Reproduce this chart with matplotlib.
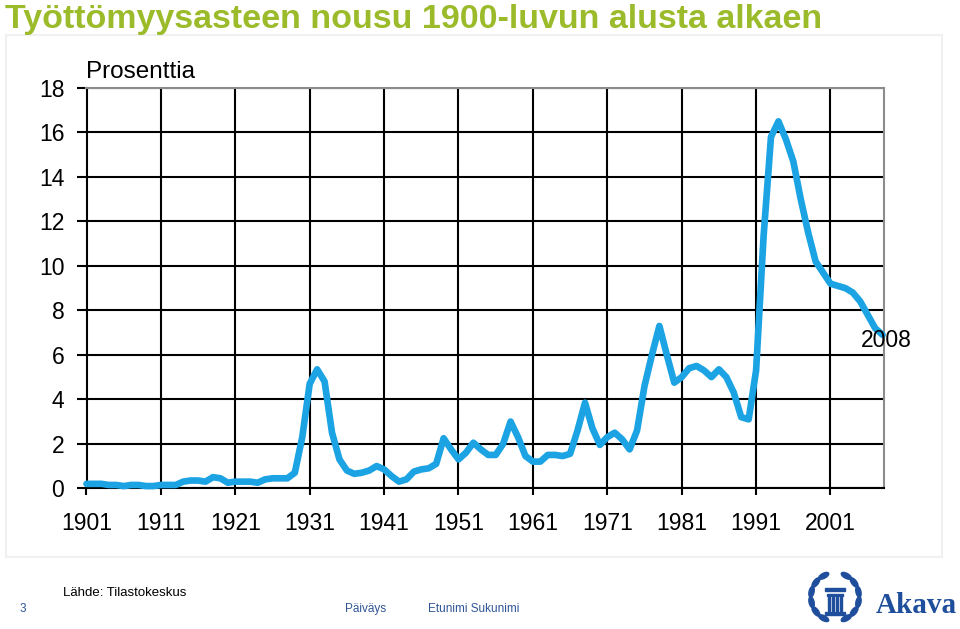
import numpy as np
import matplotlib
matplotlib.use("Agg")
import matplotlib.pyplot as plt
from matplotlib.patches import Ellipse, Rectangle

# ---- data ----
years = list(range(1901, 2009))
unemployment = [
    0.20, 0.20, 0.20, 0.15, 0.15, 0.10, 0.15, 0.15, 0.10, 0.10,   # 1901-1910
    0.15, 0.15, 0.15, 0.30, 0.35, 0.35, 0.30, 0.50, 0.45, 0.25,   # 1911-1920
    0.30, 0.30, 0.30, 0.25, 0.40, 0.45, 0.45, 0.45, 0.70, 2.30,   # 1921-1930
    4.70, 5.35, 4.80, 2.50, 1.30, 0.80, 0.65, 0.70, 0.80, 1.00,   # 1931-1940
    0.85, 0.55, 0.30, 0.40, 0.75, 0.85, 0.90, 1.10, 2.25, 1.75,   # 1941-1950
    1.30, 1.60, 2.05, 1.75, 1.50, 1.50, 2.00, 3.00, 2.30, 1.45,   # 1951-1960
    1.20, 1.20, 1.50, 1.50, 1.45, 1.55, 2.60, 3.85, 2.70, 1.95,   # 1961-1970
    2.30, 2.50, 2.20, 1.75, 2.60, 4.60, 6.00, 7.30, 6.00, 4.75,   # 1971-1980
    5.00, 5.40, 5.50, 5.30, 5.00, 5.35, 5.00, 4.30, 3.20, 3.10,   # 1981-1990
    5.30, 11.3, 15.8, 16.5, 15.7, 14.7, 13.0, 11.5, 10.2, 9.70,   # 1991-2000
    9.20, 9.10, 9.00, 8.80, 8.40, 7.80, 7.20, 6.90,               # 2001-2008
]
x_ticks = list(range(1901, 2002, 10))
y_ticks = list(range(0, 19, 2))

title = "Työttömyysasteen nousu 1900-luvun alusta alkaen"
ylabel_text = "Prosenttia"
end_label = "2008"
source = "Lähde: Tilastokeskus"

W, H = 960, 629
fig = plt.figure(figsize=(W / 100, H / 100), dpi=100)
fig.patch.set_facecolor("white")

def fx(px):
    return px / W

def fy(py):
    return 1 - py / H

# faint frame of the embedded picture
frame = Rectangle((fx(6), fy(557)), fx(942) - fx(6), fy(35) - fy(557),
                  transform=fig.transFigure, facecolor="white",
                  edgecolor="#f0f0f0", linewidth=1.5, zorder=-10)
fig.patches.append(frame)

# title
fig.text(fx(5), fy(28), title, family="Liberation Sans",
         fontweight="bold", fontsize=24.5, color="#9bbb2a", ha="left", va="baseline")

# main axes
left, right, top, bottom = 86.5, 884, 88, 488.3
ax = fig.add_axes([fx(left), fy(bottom), fx(right) - fx(left), fy(top) - fy(bottom)])
ax.set_zorder(5)
ax.set_xlim(1901, 1901 + (right - left) / 7.44)
ax.set_ylim(0, 18)

ax.plot(years, unemployment, color="#1ca3e3", linewidth=4.8,
        solid_joinstyle="round", solid_capstyle="round", clip_on=False, zorder=3)

ax.set_xticks(x_ticks)
ax.set_yticks(y_ticks)
tick_font = dict(family="Liberation Sans", size=16.5)
ax.set_xticklabels([str(t) for t in x_ticks], **tick_font)
ax.set_yticklabels([str(t) for t in y_ticks], **tick_font)
ax.tick_params(axis="x", direction="out", length=5, width=1.5, pad=12, colors="black")
ax.tick_params(axis="y", direction="out", length=7, width=1.5, pad=9, colors="black")
ax.grid(True, color="black", linewidth=1.5)
ax.set_axisbelow(True)
for s in ("left", "bottom"):
    ax.spines[s].set_color("black")
    ax.spines[s].set_linewidth(1.5)
for s in ("top", "right"):
    ax.spines[s].set_color("#8c8c8c")
    ax.spines[s].set_linewidth(1.5)

ax.text(2008.5, 6.65, end_label, ha="center", va="center", clip_on=False,
        family="Liberation Sans", fontsize=16.5, color="black", zorder=4)

fig.text(fx(86), fy(78), ylabel_text, family="Liberation Sans", fontsize=17.5,
         ha="left", va="baseline", color="black")

# footer
foot_blue = "#2f5597"
fig.text(fx(63), fy(596), source, family="Liberation Sans", fontsize=9.5,
         ha="left", va="baseline", color="black")
fig.text(fx(20), fy(612), "3", family="Liberation Sans", fontsize=8.5,
         ha="left", va="baseline", color=foot_blue)
fig.text(fx(345), fy(612), "Päiväys", family="Liberation Sans", fontsize=8.5,
         ha="left", va="baseline", color=foot_blue)
fig.text(fx(428), fy(612), "Etunimi Sukunimi", family="Liberation Sans", fontsize=8.5,
         ha="left", va="baseline", color=foot_blue)

# logo
logo_blue = "#1f4e9c"
fig.text(fx(876), fy(613), "Akava", family="Liberation Serif", fontweight="bold",
         fontsize=21, ha="left", va="baseline", color=logo_blue)
lax = fig.add_axes([fx(802), fy(628), fx(868) - fx(802), fy(566) - fy(628)])
lax.set_xlim(-33, 33)
lax.set_ylim(-31, 31)
lax.axis("off")
for ang in np.linspace(118, 242, 6):
    a = np.deg2rad(ang)
    cx, cy = 24 * np.cos(a), 24 * np.sin(a)
    lax.add_patch(Ellipse((cx, cy), 5, 11, angle=ang, color=logo_blue))
    lax.add_patch(Ellipse((-cx, cy), 5, 11, angle=180 - ang, color=logo_blue))
lax.add_patch(Rectangle((-10, 6), 20, 3.5, color=logo_blue))
lax.add_patch(Rectangle((-8, 1), 16, 2.5, color=logo_blue))
for xx in (-6, -2, 2, 6):
    lax.add_patch(Rectangle((xx - 0.9, -14), 1.8, 14, color=logo_blue))
lax.add_patch(Rectangle((-10, -18), 20, 3, color=logo_blue))

fig.savefig("out.png", dpi=100, facecolor="white")
